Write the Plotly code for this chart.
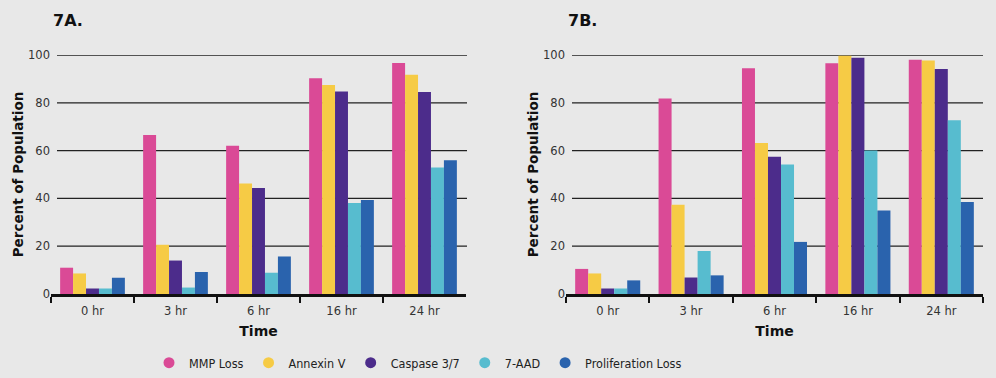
import plotly.graph_objects as go

categories = ["0 hr", "3 hr", "6 hr", "16 hr", "24 hr"]
series_names = ["MMP Loss", "Annexin V", "Caspase 3/7", "7-AAD", "Proliferation Loss"]
colors = ["#da4a96", "#f6cb45", "#4c2c8b", "#57bccf", "#2a63ad"]

# Panel 7A values (percent of population)
a_mmp = [11.0, 66.5, 62.0, 90.3, 96.7]
a_annexin = [8.6, 20.6, 46.2, 87.4, 91.7]
a_caspase = [2.3, 14.0, 44.4, 84.7, 84.5]
a_aad = [2.3, 2.7, 8.9, 38.1, 52.9]
a_prolif = [6.8, 9.2, 15.7, 39.3, 56.0]

# Panel 7B values (percent of population)
b_mmp = [10.5, 81.8, 94.5, 96.6, 98.0]
b_annexin = [8.6, 37.3, 63.2, 99.7, 97.7]
b_caspase = [2.3, 6.9, 57.4, 98.8, 94.1]
b_aad = [2.3, 18.0, 54.2, 60.0, 72.7]
b_prolif = [5.7, 7.8, 21.8, 34.9, 38.5]

y_ticks = [0, 20, 40, 60, 80, 100]

panel_a = [a_mmp, a_annexin, a_caspase, a_aad, a_prolif]
panel_b = [b_mmp, b_annexin, b_caspase, b_aad, b_prolif]

W, H = 996, 378
fig = go.Figure()

for vals, name, col in zip(panel_a, series_names, colors):
    fig.add_trace(go.Bar(x=categories, y=vals, name=name, marker_color=col,
                         marker_line_width=0, showlegend=False,
                         xaxis="x", yaxis="y"))
for vals, name, col in zip(panel_b, series_names, colors):
    fig.add_trace(go.Bar(x=categories, y=vals, name=name, marker_color=col,
                         marker_line_width=0, showlegend=False,
                         xaxis="x2", yaxis="y2"))
# legend entries with circular symbols
for name, col in zip(series_names, colors):
    fig.add_trace(go.Scatter(x=[None], y=[None], mode="markers", name=name,
                             marker=dict(color=col, size=11, symbol="circle"),
                             xaxis="x", yaxis="y"))

tick_font = dict(family="DejaVu Sans", size=11.5, color="#333333")
title_font = dict(family="DejaVu Sans", size=13.5, color="#111111", weight="bold")

xa = dict(showline=True, linecolor="#111111", linewidth=3, ticks="outside",
          tickson="boundaries", ticklen=6, tickwidth=2, tickcolor="#111111",
          tickfont=tick_font, ticklabelstandoff=4,
          showgrid=False, zeroline=False, automargin=False,
          title=dict(text="Time", font=dict(family="DejaVu Sans", size=14, color="#111111", weight="bold"), standoff=10))
ya = dict(range=[0, 100], tickvals=y_ticks, showgrid=False, zeroline=False,
          showline=False, ticks="", tickfont=tick_font, automargin=False,
          title=dict(text="Percent of Population", font=title_font, standoff=1))

y_dom = [1 - 294 / H, 1 - 55 / H]
fig.update_layout(
    width=W, height=H, margin=dict(l=0, r=0, t=0, b=0, autoexpand=False),
    paper_bgcolor="#e8e8e8", plot_bgcolor="#e8e8e8",
    barmode="group", bargap=0.22, bargroupgap=0,
    xaxis=dict(domain=[51 / W, 466 / W], anchor="y", **xa),
    yaxis=dict(domain=y_dom, anchor="x", **ya),
    xaxis2=dict(domain=[566 / W, 983 / W], anchor="y2", **xa),
    yaxis2=dict(domain=y_dom, anchor="x2", **ya),
    legend=dict(orientation="h", x=149 / W, xanchor="left", y=1 - 363 / H,
                yanchor="middle", bgcolor="rgba(0,0,0,0)",
                font=dict(family="DejaVu Sans Condensed, DejaVu Sans, sans-serif",
                          size=12.5, color="#222222")),
    showlegend=True,
)

# horizontal grid lines (behind bars)
shapes = []
for (x0, x1, yref) in [(57 / W, 467 / W, "y"), (572 / W, 983 / W, "y2")]:
    for v in y_ticks[1:]:
        shapes.append(dict(type="line", xref="paper", yref=yref, x0=x0, x1=x1,
                           y0=v, y1=v, line=dict(color="#222222", width=1.3),
                           layer="below"))
fig.update_layout(shapes=shapes)

panel_font = dict(family="DejaVu Sans", size=16, color="#111111", weight="bold")
fig.add_annotation(text="7A.", xref="paper", yref="paper", x=51 / W, y=1 - 20.5 / H,
                   xanchor="left", yanchor="middle", showarrow=False, font=panel_font)
fig.add_annotation(text="7B.", xref="paper", yref="paper", x=566 / W, y=1 - 20.5 / H,
                   xanchor="left", yanchor="middle", showarrow=False, font=panel_font)

fig.write_html("out.html", config={"displayModeBar": False},
               post_script="document.body.style.margin='0';document.body.style.overflow='hidden';")
